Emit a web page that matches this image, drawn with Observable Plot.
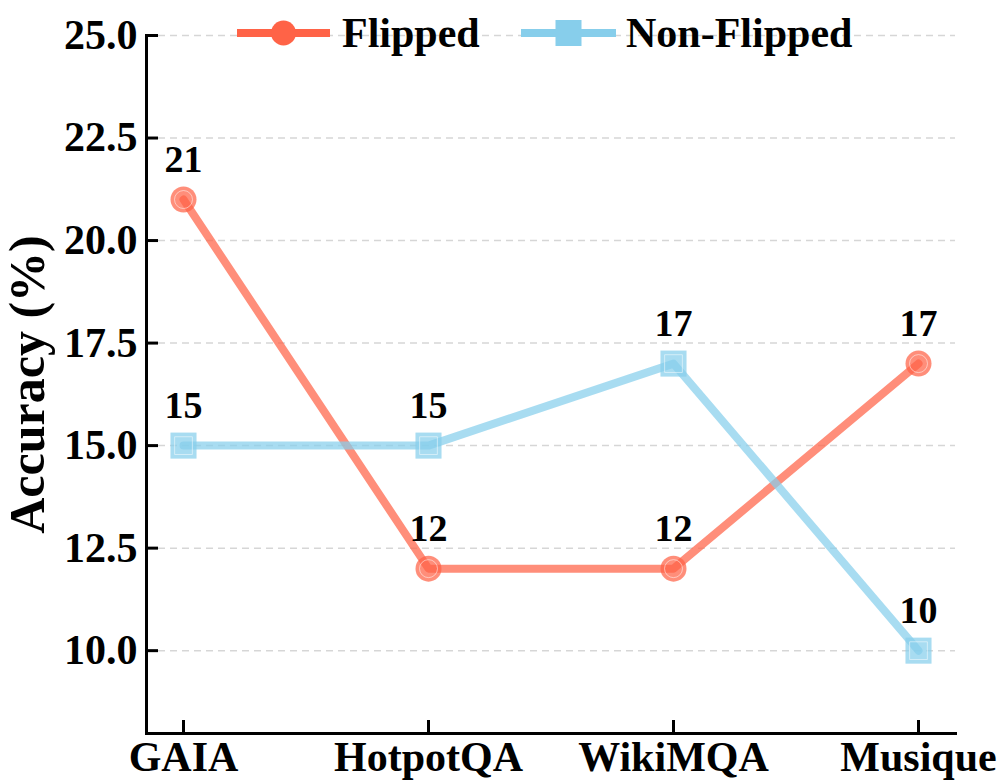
<!DOCTYPE html>
<html>
<head>
<meta charset="utf-8">
<script src="https://cdn.jsdelivr.net/npm/d3@7"></script>
<script src="https://cdn.jsdelivr.net/npm/@observablehq/plot@0.6"></script>
<style>
  body { margin: 0; background: white; }
  #wrap { position: relative; width: 998px; height: 781px; }
  #legend { position: absolute; left: 0; top: 0; pointer-events: none; }
</style>
</head>
<body>
<div id="wrap"></div>
<script>
const categories = ["GAIA", "HotpotQA", "WikiMQA", "Musique"];
const flipped = [21, 12, 12, 17];
const nonFlipped = [15, 15, 17, 10];
const yTicks = [10, 12.5, 15, 17.5, 20, 22.5, 25];
const seriesNames = ["Flipped", "Non-Flipped"];
const seriesColors = ["#FF6347", "#87CEEB"];

const rows = [];
categories.forEach((c, i) => {
  rows.push({cat: c, value: flipped[i], series: seriesNames[0]});
  rows.push({cat: c, value: nonFlipped[i], series: seriesNames[1]});
});
const fRows = rows.filter(d => d.series === seriesNames[0]);
const nRows = rows.filter(d => d.series === seriesNames[1]);

const font = "'Liberation Serif', 'Times New Roman', serif";

const chart = Plot.plot({
  width: 998,
  height: 781,
  marginLeft: 146,
  marginRight: 43,
  marginTop: 35,
  marginBottom: 48,
  style: {fontFamily: font, fontWeight: "bold", fontSize: "42px", color: "black", background: "white", overflow: "visible"},
  x: {type: "point", domain: categories, padding: 0.151, label: null},
  y: {domain: [7.98, 25], label: null},
  marks: [
    Plot.gridY(yTicks, {stroke: "#cccccc", strokeOpacity: 0.8, strokeWidth: 1.5, strokeDasharray: "7,5"}),
    Plot.frame({anchor: "left", strokeWidth: 3}),
    Plot.frame({anchor: "bottom", strokeWidth: 3}),
    Plot.axisY({ticks: yTicks, tickFormat: d => d.toFixed(1), tickSize: -12, tickPadding: 21, strokeWidth: 3, fontSize: 42, label: null}),
    Plot.axisY({ticks: [], label: "Accuracy (%)", labelAnchor: "center", labelOffset: 138, labelArrow: "none", fontSize: 50}),
    Plot.axisX({tickSize: -13, tickPadding: 21, strokeWidth: 3, fontSize: 42, label: null}),
    Plot.line(fRows, {x: "cat", y: "value", stroke: seriesColors[0], strokeWidth: 8, strokeOpacity: 0.72}),
    Plot.line(nRows, {x: "cat", y: "value", stroke: seriesColors[1], strokeWidth: 8, strokeOpacity: 0.72}),
    Plot.dot(fRows, {x: "cat", y: "value", r: 13, fill: seriesColors[0], fillOpacity: 0.72, symbol: "circle"}),
    Plot.dot(fRows, {x: "cat", y: "value", r: 9, fill: "none", stroke: "white", strokeOpacity: 0.5, strokeWidth: 1}),
    Plot.dot(nRows, {x: "cat", y: "value", r: 14.7, fill: seriesColors[1], fillOpacity: 0.72, symbol: "square"}),
    Plot.dot(nRows, {x: "cat", y: "value", r: 10, fill: "none", stroke: "white", strokeOpacity: 0.5, strokeWidth: 1, symbol: "square"}),
    Plot.text(rows, {x: "cat", y: "value", text: d => String(d.value), dy: -28, lineAnchor: "bottom", fontSize: 38, fill: "black"})
  ]
});

const wrap = document.getElementById("wrap");
wrap.appendChild(chart);

// Legend overlay
const leg = d3.select(wrap).append("svg")
  .attr("id", "legend").attr("width", 998).attr("height", 80)
  .style("font-family", font).style("font-weight", "bold").style("font-size", "42px");
const items = [
  {name: seriesNames[0], color: seriesColors[0], x0: 237, x1: 330, tx: 342, shape: "circle"},
  {name: seriesNames[1], color: seriesColors[1], x0: 521, x1: 616, tx: 626, shape: "square"}
];
items.forEach(it => {
  const g = leg.append("g");
  g.append("line").attr("x1", it.x0).attr("x2", it.x1).attr("y1", 33).attr("y2", 33)
    .attr("stroke", it.color).attr("stroke-width", 8);
  const cx = (it.x0 + it.x1) / 2;
  if (it.shape === "circle") {
    g.append("circle").attr("cx", cx).attr("cy", 33).attr("r", 12.5).attr("fill", it.color);
  } else {
    g.append("rect").attr("x", cx - 13).attr("y", 20).attr("width", 26).attr("height", 26).attr("fill", it.color);
  }
  g.append("text").attr("x", it.tx).attr("y", 47).attr("fill", "black").text(it.name);
});
</script>
</body>
</html>
